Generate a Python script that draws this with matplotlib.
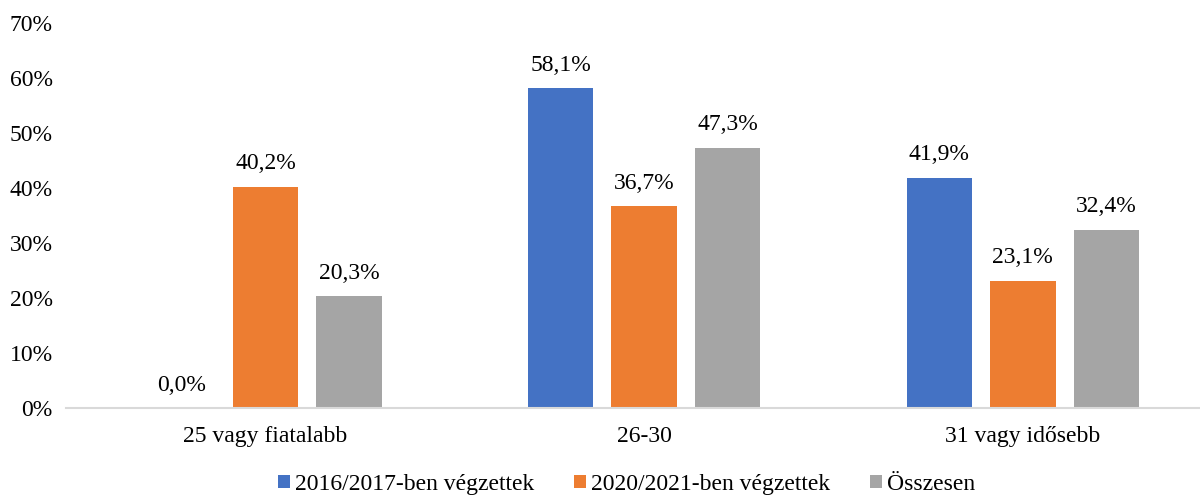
import numpy as np
import matplotlib
matplotlib.use("Agg")
import matplotlib.pyplot as plt

categories = ["25 vagy fiatalabb", "26-30", "31 vagy idősebb"]
series_names = ["2016/2017-ben végzettek", "2020/2021-ben végzettek", "Összesen"]
vals_2016 = [0.0, 58.1, 41.9]
vals_2020 = [40.2, 36.7, 23.1]
vals_total = [20.3, 47.3, 32.4]
yticks = [0, 10, 20, 30, 40, 50, 60, 70]

colors = ["#4472C4", "#ED7D31", "#A5A5A5"]

plt.rcParams["font.family"] = ["Liberation Serif", "DejaVu Serif"]
plt.rcParams["font.size"] = 17

fig = plt.figure(figsize=(12, 4.98), dpi=100)
ax = fig.add_axes([66 / 1200, 90 / 498, 1 - 66 / 1200, 385 / 498])

x = np.arange(len(categories))
width = 0.173
step = 0.2205
handles = []
for i, (vals, name, color) in enumerate(zip([vals_2016, vals_2020, vals_total], series_names, colors)):
    pos = x + (i - 1) * step
    bars = ax.bar(pos, vals, width, color=color, label=name)
    handles.append(bars)
    for xp, v in zip(pos, vals):
        ax.annotate(f"{v:.1f}%".replace(".", ","), xy=(xp, v), xytext=(0, 9),
                    textcoords="offset points", ha="center", va="bottom", fontsize=17)

ax.set_xlim(-0.527, 2.468)
ax.set_ylim(0, 70)
ax.set_yticks(yticks)
ax.set_yticklabels([f"{t}%" for t in yticks])
ax.set_xticks(x)
ax.set_xticklabels(categories)
ax.tick_params(axis="both", length=0)
ax.tick_params(axis="y", pad=9.5)
ax.tick_params(axis="x", pad=13)
for side in ["top", "right", "left"]:
    ax.spines[side].set_visible(False)
ax.spines["bottom"].set_color("#D9D9D9")
ax.spines["bottom"].set_linewidth(1.5)

fig.legend(handles=handles, labels=series_names, loc="center", bbox_to_anchor=(0.522, 0.027),
           ncol=3, frameon=False, handlelength=0.5, handleheight=0.5,
           handletextpad=0.21, columnspacing=1.7, fontsize=17)

fig.savefig("out.png", dpi=100)
